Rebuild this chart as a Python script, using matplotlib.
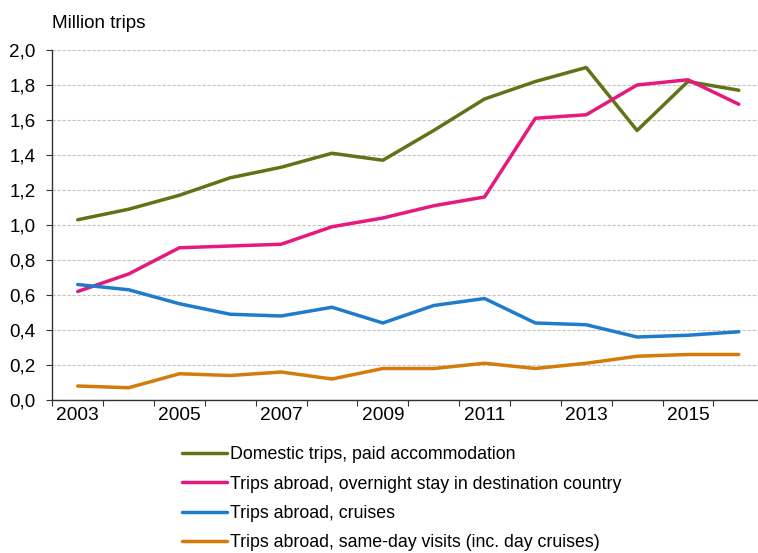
import numpy as np
import matplotlib
matplotlib.use("Agg")
import matplotlib.pyplot as plt
from matplotlib.ticker import FixedLocator, FuncFormatter

matplotlib.rcParams['font.family'] = ['Liberation Sans', 'DejaVu Sans']

years = list(range(2003, 2017))
domestic = [1.03, 1.09, 1.17, 1.27, 1.33, 1.41, 1.37, 1.54, 1.72, 1.82, 1.90, 1.54, 1.82, 1.77]
overnight = [0.62, 0.72, 0.87, 0.88, 0.89, 0.99, 1.04, 1.11, 1.16, 1.61, 1.63, 1.80, 1.83, 1.69]
cruises = [0.66, 0.63, 0.55, 0.49, 0.48, 0.53, 0.44, 0.54, 0.58, 0.44, 0.43, 0.36, 0.37, 0.39]
sameday = [0.08, 0.07, 0.15, 0.14, 0.16, 0.12, 0.18, 0.18, 0.21, 0.18, 0.21, 0.25, 0.26, 0.26]

labels = ["Domestic trips, paid accommodation",
          "Trips abroad, overnight stay in destination country",
          "Trips abroad, cruises",
          "Trips abroad, same-day visits (inc. day cruises)"]
colors = ["#617316", "#e5197e", "#1f7bcb", "#d47b0c"]

fig = plt.figure(figsize=(7.58, 5.53), dpi=100)
W, H = 758, 553
ax = fig.add_axes([52.3 / W, (H - 400) / H, 705.7 / W, 350 / H])

x = np.arange(len(years))
for vals, lab, col in zip([domestic, overnight, cruises, sameday], labels, colors):
    ax.plot(x, vals, color=col, lw=2.5, label=lab, solid_capstyle='round')

ax.set_ylim(0, 2.0)
ax.set_xlim(-0.5, 705.7 / 50.85 - 0.5)
ax.set_yticks(np.arange(0, 2.01, 0.2))
ax.yaxis.set_major_formatter(FuncFormatter(lambda v, p: f"{v:.1f}".replace(".", ",")))
ax.yaxis.grid(True, color="#c4c4c4", lw=0.8, linestyle=(0, (3, 1.5)))
ax.set_axisbelow(True)

# tick marks between categories, labels on every other year
ax.xaxis.set_major_locator(FixedLocator(np.arange(-0.5, 14.5, 1)))
ax.xaxis.set_major_formatter(FuncFormatter(lambda v, p: ""))
ax.xaxis.set_minor_locator(FixedLocator(x[::2]))
ax.set_xticklabels([str(y) for y in years[::2]], minor=True)
ax.tick_params(axis='x', which='major', length=4, direction='out', color='#333333')
ax.tick_params(axis='x', which='minor', length=0, pad=5, labelsize=13.8)
ax.tick_params(axis='y', length=4, direction='out', color='#333333', labelsize=13.6, pad=8)

for s in ['top', 'right']:
    ax.spines[s].set_visible(False)
for s in ['left', 'bottom']:
    ax.spines[s].set_color('#333333')
    ax.spines[s].set_linewidth(1.0)

fig.text(52 / W, 1 - 23 / H, "Million trips", fontsize=13.6, va='center', ha='left')

fig.legend(loc='upper left', bbox_to_anchor=(175 / W, 1 - 439 / H), frameon=False,
           fontsize=12.8, handlelength=2.5, handletextpad=0.22, labelspacing=0.7,
           borderaxespad=0)

fig.savefig("out.png", dpi=100)
